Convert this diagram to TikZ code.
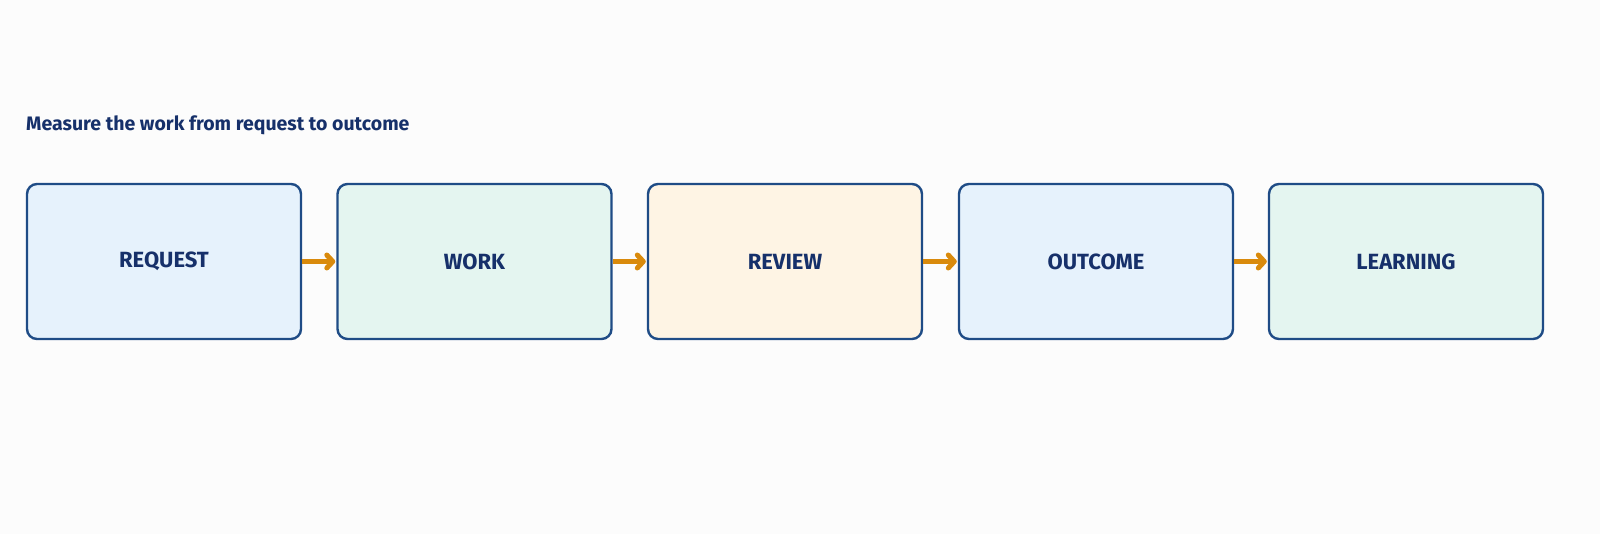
\documentclass[tikz,border=0pt]{standalone}
\usepackage{fontspec}
\setmainfont{Fira Sans}
\usetikzlibrary{arrows.meta}
\definecolor{navy}{HTML}{16306A}
\definecolor{edge}{HTML}{1F4C86}
\definecolor{orange}{HTML}{D98A0C}
\definecolor{fblue}{HTML}{E6F2FC}
\definecolor{fmint}{HTML}{E4F5F0}
\definecolor{fcream}{HTML}{FEF4E4}
\definecolor{bg}{HTML}{FCFCFC}
\begin{document}
\begin{tikzpicture}[x=1pt,y=-1pt,
  stage/.style={draw=edge, line width=2.4pt, rounded corners=10pt,
    minimum width=274pt, minimum height=155pt, inner sep=0pt,
    font=\bfseries\fontsize{22}{26}\selectfont, text=navy},
  flow/.style={draw=orange, line width=5pt, -{Straight Barb[length=6pt,width=13pt,round]}, shorten >=1pt}]
\fill[bg] (0,0) rectangle (1600,534);
\useasboundingbox (0,0) rectangle (1600,534);
\node[anchor=base west, font=\bfseries\fontsize{19.5}{24}\selectfont, text=navy, inner sep=0pt] (title) at (26,131) {Measure the work from request to outcome};
\node[stage, fill=fblue]  (req) at (164,261.5) {REQUEST};
\node[stage, fill=fmint]  (work) at (474.5,261.5) {WORK};
\node[stage, fill=fcream] (rev) at (785,261.5) {REVIEW};
\node[stage, fill=fblue]  (out) at (1096,261.5) {OUTCOME};
\node[stage, fill=fmint]  (learn) at (1406,261.5) {LEARNING};
\draw[flow] (req.east) -- (work.west);
\draw[flow] (work.east) -- (rev.west);
\draw[flow] (rev.east) -- (out.west);
\draw[flow] (out.east) -- (learn.west);
\end{tikzpicture}
\end{document}
